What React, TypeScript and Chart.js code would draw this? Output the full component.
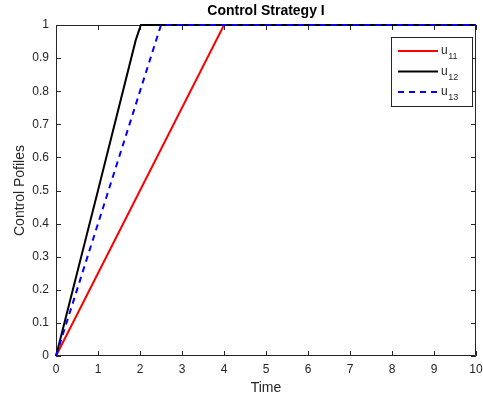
import React, { useEffect, useRef } from "react";
import { Chart, registerables } from "chart.js";

Chart.register(...registerables);

const TITLE = "Control Strategy I";
const X_LABEL = "Time";
const Y_LABEL = "Control Pofiles";

const xTicks = [0, 1, 2, 3, 4, 5, 6, 7, 8, 9, 10];
const yTicks = [0, 0.1, 0.2, 0.3, 0.4, 0.5, 0.6, 0.7, 0.8, 0.9, 1];

const u11Time = [0, 4, 10];
const u11Values = [0, 1, 1];
const u12Time = [0, 0.2, 1.0, 1.9, 2.02, 10];
const u12Values = [0, 0.1, 0.5, 0.955, 1, 1];
const u13Time = [0, 2.5, 10];
const u13Values = [0, 1, 1];

const legendBase = ["u", "u", "u"];
const legendSub = ["11", "12", "13"];

const INK = "#262626";
const FONT = "'Liberation Sans', Arial, Helvetica, sans-serif";

const toPoints = (xs: number[], ys: number[]) => xs.map((x, i) => ({ x, y: ys[i] }));

const framePlugin = {
  id: "frame",
  beforeDatasetsDraw(chart: any) {
    const { ctx, chartArea } = chart;
    const { left, right, top, bottom } = chartArea;
    const xs = chart.scales.x;
    const ys = chart.scales.y;
    ctx.save();
    ctx.strokeStyle = INK;
    ctx.lineWidth = 1;
    ctx.beginPath();
    ctx.moveTo(left + 0.5, top + 0.5);
    ctx.lineTo(right - 0.5, top + 0.5);
    ctx.lineTo(right - 0.5, bottom - 0.5);
    ctx.lineTo(left + 0.5, bottom - 0.5);
    ctx.closePath();
    ctx.stroke();
    const tl = 5;
    ctx.beginPath();
    xTicks.forEach((v) => {
      const px = Math.round(xs.getPixelForValue(v)) + 0.5;
      ctx.moveTo(px, bottom);
      ctx.lineTo(px, bottom - tl);
      ctx.moveTo(px, top);
      ctx.lineTo(px, top + tl);
    });
    yTicks.forEach((v) => {
      const py = Math.round(ys.getPixelForValue(v)) + 0.5;
      ctx.moveTo(left, py);
      ctx.lineTo(left + tl, py);
      ctx.moveTo(right, py);
      ctx.lineTo(right - tl, py);
    });
    ctx.stroke();

    // title
    ctx.fillStyle = "#000";
    ctx.font = `bold 14px ${FONT}`;
    ctx.textAlign = "center";
    ctx.textBaseline = "middle";
    ctx.fillText(TITLE, (left + right) / 2, 11);
    ctx.restore();
  },
  afterDatasetsDraw(chart: any) {
    const { ctx } = chart;
    ctx.save();
    // legend
    const bx = 391.5, by = 37.5, bw = 81, bh = 69;
    ctx.fillStyle = "#fff";
    ctx.fillRect(bx, by, bw, bh);
    ctx.strokeStyle = INK;
    ctx.lineWidth = 1;
    ctx.strokeRect(bx, by, bw, bh);
    chart.data.datasets.forEach((ds: any, i: number) => {
      const rowY = 51 + i * 20.5;
      ctx.save();
      ctx.strokeStyle = ds.borderColor;
      ctx.lineWidth = ds.borderWidth;
      ctx.setLineDash(ds.borderDash || []);
      ctx.beginPath();
      ctx.moveTo(398, rowY);
      ctx.lineTo(438, rowY);
      ctx.stroke();
      ctx.restore();
      ctx.fillStyle = INK;
      ctx.textAlign = "left";
      ctx.textBaseline = "alphabetic";
      ctx.font = `12px ${FONT}`;
      ctx.fillText(legendBase[i], 441, rowY + 3);
      const w = ctx.measureText(legendBase[i]).width;
      ctx.font = `9px ${FONT}`;
      ctx.fillText(legendSub[i], 441 + w + 0.5, rowY + 8);
    });
    ctx.restore();
  },
};

export default function App() {
  const ref = useRef<HTMLCanvasElement | null>(null);
  useEffect(() => {
    if (!ref.current) return;
    const chart = new Chart(ref.current, {
      type: "line",
      data: {
        datasets: [
          {
            label: "u11",
            data: toPoints(u11Time, u11Values),
            borderColor: "#ff0000",
            borderWidth: 2,
            pointRadius: 0,
            fill: false,
            clip: false,
            order: 2,
          },
          {
            label: "u12",
            data: toPoints(u12Time, u12Values),
            borderColor: "#000000",
            borderWidth: 2,
            pointRadius: 0,
            fill: false,
            clip: false,
            order: 1,
          },
          {
            label: "u13",
            data: toPoints(u13Time, u13Values),
            borderColor: "#0000ff",
            borderWidth: 2,
            borderDash: [6, 5],
            pointRadius: 0,
            fill: false,
            clip: false,
            order: 0,
          },
        ],
      },
      options: {
        animation: false,
        responsive: false,
        maintainAspectRatio: false,
        layout: { padding: { left: 0, right: 7, top: 25, bottom: 0 } },
        plugins: {
          legend: { display: false },
          title: { display: false },
          tooltip: { enabled: false },
        },
        scales: {
          x: {
            type: "linear",
            min: 0,
            max: 10,
            afterBuildTicks: (s: any) => {
              s.ticks = xTicks.map((v) => ({ value: v }));
            },
            afterFit: (s: any) => {
              s.height = 47;
              s.paddingLeft = 0;
              s.paddingRight = 0;
            },
            grid: { display: false, drawTicks: false },
            border: { display: false },
            ticks: {
              color: INK,
              font: { family: FONT, size: 12 },
              padding: 6,
              maxRotation: 0,
              autoSkip: false,
            },
            title: {
              display: true,
              text: X_LABEL,
              color: INK,
              font: { family: FONT, size: 14 },
              padding: { top: 0, bottom: 6 },
            },
          },
          y: {
            type: "linear",
            min: 0,
            max: 1,
            afterBuildTicks: (s: any) => {
              s.ticks = yTicks.map((v) => ({ value: v }));
            },
            afterFit: (s: any) => {
              s.width = 56;
              s.paddingTop = 0;
              s.paddingBottom = 0;
            },
            grid: { display: false, drawTicks: false },
            border: { display: false },
            ticks: {
              color: INK,
              font: { family: FONT, size: 12 },
              padding: 7,
              autoSkip: false,
              callback: (v: any) => String(Math.round(Number(v) * 10) / 10),
            },
            title: {
              display: true,
              text: Y_LABEL,
              color: INK,
              font: { family: FONT, size: 14 },
              padding: { top: 12, bottom: 0 },
            },
          },
        },
      },
      plugins: [framePlugin],
    });
    return () => chart.destroy();
  }, []);
  return (
    <div style={{ position: "fixed", left: 0, top: 0, width: 483, height: 403, background: "#fff" }}>
      <canvas ref={ref} width={483} height={403} style={{ display: "block" }} />
    </div>
  );
}
